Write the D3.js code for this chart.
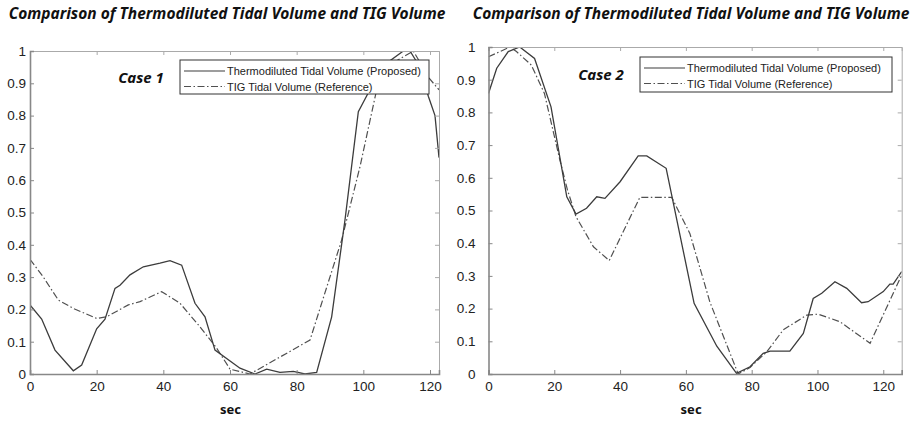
<!DOCTYPE html>
<html>
<head>
<meta charset="utf-8">
<script src="https://cdn.jsdelivr.net/npm/d3@7"></script>
<style>
  body { margin: 0; background: #fff; }
  svg { display: block; }
</style>
</head>
<body>
<div id="chart"></div>
<script>
// values (time in sec, normalized volume)
var chartTitle = "Comparison of Thermodiluted Tidal Volume and TIG Volume";
var seriesNames = ["Thermodiluted Tidal Volume (Proposed)", "TIG Tidal Volume (Reference)"];
var caseNames = ["Case 1", "Case 2"];
var xTicks = [0, 20, 40, 60, 80, 100, 120];
var yTicks = [0, 0.1, 0.2, 0.3, 0.4, 0.5, 0.6, 0.7, 0.8, 0.9, 1];

var case1PropT = [0, 3.5, 7.5, 13, 15.5, 20, 22.5, 25.5, 27, 30, 34, 39, 42, 45.5, 49.5, 52.5, 55.5, 63, 67.5, 71, 75, 79, 82.5, 86, 90.5, 94.5, 98.5, 103, 108, 112, 114, 117, 119.5, 121.5, 122.7];
var case1PropV = [0.214, 0.17, 0.074, 0.01, 0.028, 0.14, 0.17, 0.265, 0.275, 0.307, 0.332, 0.343, 0.351, 0.337, 0.219, 0.177, 0.074, 0.018, 0, 0.015, 0.005, 0.008, 0, 0.005, 0.177, 0.477, 0.812, 0.9, 0.97, 1.0, 1.0, 0.95, 0.86, 0.8, 0.67];
var case1RefT = [0, 4, 8.5, 13, 20, 23, 29.5, 33, 39.5, 45, 51, 56, 60, 66, 84, 93.5, 99, 104, 110, 115, 119.8, 122.7];
var case1RefV = [0.355, 0.3, 0.229, 0.203, 0.172, 0.177, 0.214, 0.224, 0.255, 0.219, 0.146, 0.08, 0.015, 0, 0.105, 0.415, 0.642, 0.88, 0.97, 1.0, 0.915, 0.88];

var case2PropT = [0, 2.5, 6, 9.5, 14, 19, 23.8, 26.6, 29.8, 32.9, 35.4, 40, 45.5, 48.1, 54, 62.5, 69.4, 75.4, 79.5, 83.5, 85.6, 88, 91.6, 95.7, 98.7, 101.3, 105.3, 108.9, 113.4, 115.4, 120, 122, 123, 125.6];
var case2PropV = [0.858, 0.935, 0.986, 1.0, 0.965, 0.817, 0.542, 0.489, 0.507, 0.542, 0.537, 0.588, 0.667, 0.667, 0.629, 0.216, 0.085, 0.002, 0.022, 0.063, 0.07, 0.07, 0.07, 0.124, 0.231, 0.247, 0.282, 0.262, 0.218, 0.221, 0.252, 0.275, 0.275, 0.313];
var case2RefT = [0, 6.5, 8.5, 13, 17, 21.7, 24, 26.6, 31.9, 36.7, 46, 55.7, 61.2, 67.3, 75.9, 79.5, 84.6, 89.6, 96.7, 100.2, 106.8, 116, 125.6];
var case2RefV = [0.97, 1.0, 0.986, 0.945, 0.858, 0.654, 0.563, 0.481, 0.389, 0.347, 0.54, 0.54, 0.43, 0.22, 0, 0.02, 0.068, 0.135, 0.18, 0.183, 0.16, 0.094, 0.303];

function zip(t, v) {
    return t.map(function(d, i) { return {t: d, v: v[i]}; });
}

var w = 915;
var h = 425;

var svg = d3.select("#chart")
            .append("svg")
            .attr("width", w)
            .attr("height", h);

svg.append("rect")
    .attr("width", w)
    .attr("height", h)
    .attr("fill", "#fff");

// panel layout
var panels = [
    {name: caseNames[0], left: 30, right: 439, top: 51, bottom: 374, xMax: 122.7,
     prop: zip(case1PropT, case1PropV), ref: zip(case1RefT, case1RefV),
     titleX: 227, caseX: 141, caseY: 83, labelGap: 4,
     legend: {x: 180, y: 60, w: 249, h: 34}},
    {name: caseNames[1], left: 488.5, right: 901.7, top: 47, bottom: 374, xMax: 125.6,
     prop: zip(case2PropT, case2PropV), ref: zip(case2RefT, case2RefV),
     titleX: 691, caseX: 601, caseY: 80, labelGap: 13,
     legend: {x: 640, y: 57, w: 252, h: 35}}
];

panels.forEach(function(p, k) {
    var xScale = d3.scaleLinear()
                    .domain([0, p.xMax])
                    .range([p.left, p.right]);
    var yScale = d3.scaleLinear()
                    .domain([0, 1])
                    .range([p.bottom, p.top]);

    var g = svg.append("g");

    // title
    g.append("text")
        .attr("x", p.titleX)
        .attr("y", 19)
        .attr("text-anchor", "middle")
        .attr("font-family", "'Noto Sans', 'Open Sans', sans-serif")
        .attr("font-size", 15.5)
        .attr("font-weight", "bold")
        .attr("font-style", "italic")
        .attr("fill", "#111")
        .text(chartTitle);

    g.append("clipPath")
        .attr("id", "clip" + k)
        .append("rect")
        .attr("x", p.left)
        .attr("y", p.top)
        .attr("width", p.right - p.left)
        .attr("height", p.bottom - p.top);

    var line = d3.line()
                .x(function(d) { return xScale(d.t); })
                .y(function(d) { return yScale(d.v); });

    var lines = g.append("g").attr("clip-path", "url(#clip" + k + ")");

    lines.append("path")
        .datum(p.ref)
        .attr("d", line)
        .attr("fill", "none")
        .attr("stroke", "#505050")
        .attr("stroke-width", 1.2)
        .attr("stroke-dasharray", "7,2.5,1.5,2.5");

    lines.append("path")
        .datum(p.prop)
        .attr("d", line)
        .attr("fill", "none")
        .attr("stroke", "#3c3c3c")
        .attr("stroke-width", 1.3);

    // case label
    g.append("text")
        .attr("x", p.caseX)
        .attr("y", p.caseY)
        .attr("text-anchor", "middle")
        .attr("font-family", "'Noto Sans', 'Open Sans', sans-serif")
        .attr("font-size", 15)
        .attr("font-weight", "bold")
        .attr("font-style", "italic")
        .attr("fill", "#111")
        .text(p.name);

    // legend box
    var lg = g.append("g");
    lg.append("rect")
        .attr("x", p.legend.x)
        .attr("y", p.legend.y)
        .attr("width", p.legend.w)
        .attr("height", p.legend.h)
        .attr("fill", "#fff")
        .attr("stroke", "#333")
        .attr("stroke-width", 1);

    seriesNames.forEach(function(s, i) {
        var ry = p.legend.y + 11 + i * 15.5;
        lg.append("line")
            .attr("x1", p.legend.x + 4)
            .attr("x2", p.legend.x + 45)
            .attr("y1", ry)
            .attr("y2", ry)
            .attr("stroke", i == 0 ? "#3c3c3c" : "#505050")
            .attr("stroke-width", 1.2)
            .attr("stroke-dasharray", i == 0 ? null : "7,2.5,1.5,2.5");
        lg.append("text")
            .attr("x", p.legend.x + 47)
            .attr("y", ry + 4)
            .attr("font-family", "'Liberation Sans', Arial, sans-serif")
            .attr("font-size", 11)
            .attr("fill", "#222")
            .text(s);
    });

    // axes: MATLAB style box with inward ticks
    var xAxis = d3.axisBottom(xScale).tickValues(xTicks).tickSize(-4).tickPadding(7);
    var xTop = d3.axisTop(xScale).tickValues(xTicks).tickSize(-4).tickFormat("");
    var yAxis = d3.axisLeft(yScale).tickValues(yTicks).tickSize(-4).tickPadding(p.labelGap)
                    .tickFormat(function(d) { return d3.format("~g")(d); });
    var yRight = d3.axisRight(yScale).tickValues(yTicks).tickSize(-4).tickFormat("");

    var axStyle = function(sel, col, sw) {
        sel.selectAll("path").attr("stroke", col).attr("stroke-width", sw);
        sel.selectAll("line").attr("stroke", col);
        sel.selectAll("text")
            .attr("font-family", "'Liberation Sans', Arial, sans-serif")
            .attr("font-size", 13.5)
            .attr("fill", "#222");
    };

    g.append("g")
        .attr("transform", "translate(0," + p.top + ")")
        .call(xTop)
        .call(axStyle, "#aaa", 1);
    g.append("g")
        .attr("transform", "translate(" + p.right + ",0)")
        .call(yRight)
        .call(axStyle, "#aaa", 1);
    g.append("g")
        .attr("transform", "translate(0," + p.bottom + ")")
        .call(xAxis)
        .call(axStyle, "#888", 1.6);
    g.append("g")
        .attr("transform", "translate(" + p.left + ",0)")
        .call(yAxis)
        .call(axStyle, "#888", 1.6);

    // x label
    g.append("text")
        .attr("x", (p.left + p.right) / 2 - 4)
        .attr("y", 414)
        .attr("text-anchor", "middle")
        .attr("font-family", "'Noto Sans', 'Open Sans', sans-serif")
        .attr("font-size", 13)
        .attr("font-weight", "bold")
        .attr("fill", "#111")
        .text("sec");
});
</script>
</body>
</html>
